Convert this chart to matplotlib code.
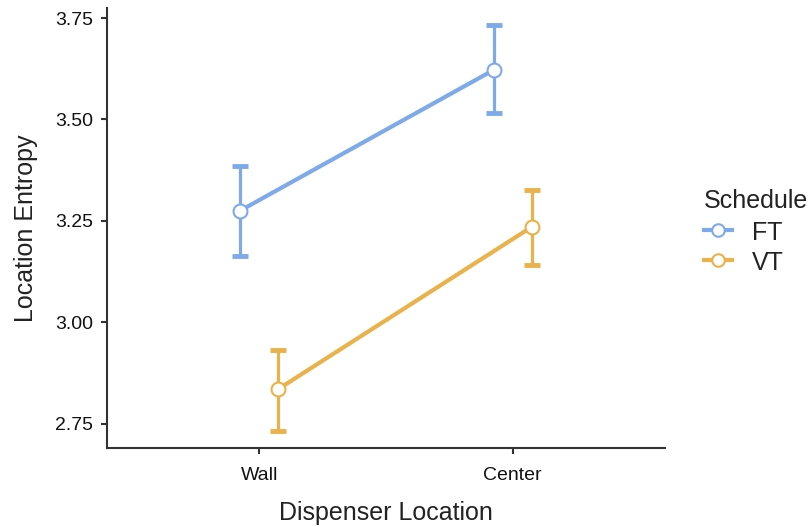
import matplotlib
matplotlib.use("Agg")
import matplotlib.pyplot as plt
from matplotlib.lines import Line2D

plt.rcParams['font.family'] = ['Liberation Sans', 'DejaVu Sans']

locations = ['Wall', 'Center']
schedules = ['FT', 'VT']
colors = {'FT': '#7EAAE9', 'VT': '#E9B24A'}

means = {'FT': [3.275, 3.622], 'VT': [2.835, 3.235]}
lower = {'FT': [3.163, 3.517], 'VT': [2.733, 3.142]}
upper = {'FT': [3.384, 3.732], 'VT': [2.932, 3.326]}

dodge = {'FT': -0.075, 'VT': 0.075}

fig = plt.figure(figsize=(8.12, 5.27), dpi=100)
ax = fig.add_axes([0.1318, 0.150, 0.687, 0.835])

for s in schedules:
    xs = [i + 1 + dodge[s] for i in range(len(locations))]
    m = means[s]
    err = [[m[i] - lower[s][i] for i in range(2)], [upper[s][i] - m[i] for i in range(2)]]
    ax.errorbar(xs, m, yerr=err, fmt='none', ecolor=colors[s], elinewidth=2.3,
                capsize=6, capthick=3.5, zorder=2)
    ax.plot(xs, m, color=colors[s], lw=3, zorder=3)
    ax.plot(xs, m, 'o', ms=10, mfc='white', mec=colors[s], mew=1.5, zorder=4)

ax.set_xlim(0.4, 2.6)
ax.set_ylim(2.69, 3.775)
ax.set_xticks([1, 2])
ax.set_xticklabels(locations)
ax.set_yticks([2.75, 3.0, 3.25, 3.5, 3.75])
ax.set_yticklabels(['2.75', '3.00', '3.25', '3.50', '3.75'])
ax.tick_params(labelsize=14, colors='#333333', length=4, width=1.5, labelcolor='#111111')
ax.tick_params(axis='x', pad=10)
ax.tick_params(axis='y', pad=6)
for sp in ['top', 'right']:
    ax.spines[sp].set_visible(False)
for sp in ['left', 'bottom']:
    ax.spines[sp].set_linewidth(1.5)
    ax.spines[sp].set_color('#333333')

ax.set_xlabel('Dispenser Location', fontsize=18, color='#222222', labelpad=12)
ax.set_ylabel('Location Entropy', fontsize=18, color='#222222', labelpad=12)

handles = [Line2D([0], [0], color=colors[s], lw=3, marker='o', ms=9,
                  mfc='white', mec=colors[s], mew=1.5) for s in schedules]
leg = fig.legend(handles, schedules, title='Schedule', loc='upper left',
                 bbox_to_anchor=(0.855, 0.66), frameon=False, fontsize=18,
                 title_fontsize=18, handlelength=1.1, handletextpad=0.8,
                 labelspacing=0.2, handleheight=1.0, borderaxespad=0)
leg._legend_box.align = 'left'
leg._legend_box.sep = 5
for t in leg.get_texts():
    t.set_color('#222222')
leg.get_title().set_color('#222222')

fig.savefig('out.png', dpi=100)
